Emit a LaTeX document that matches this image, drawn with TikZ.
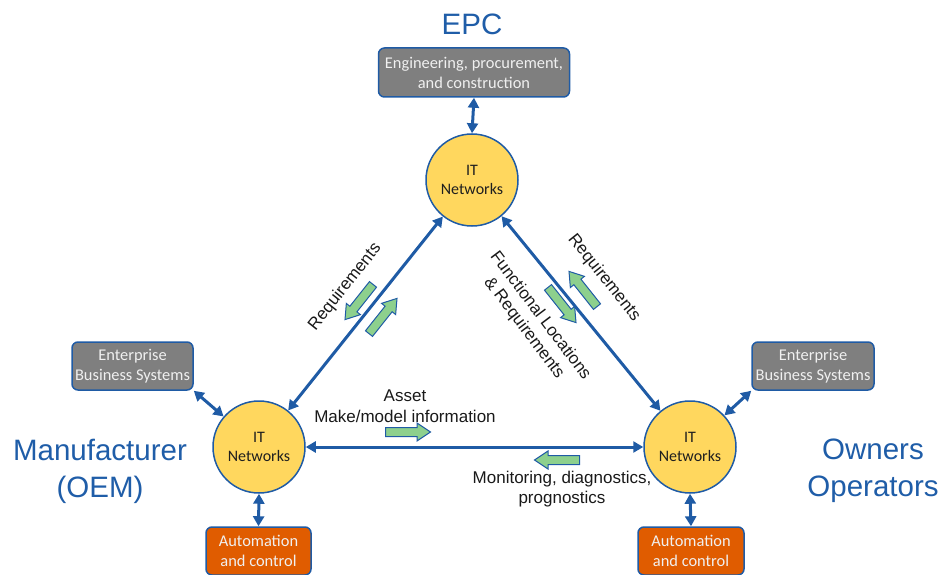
\documentclass[tikz,border=0pt]{standalone}
\usepackage{fontspec}
\setmainfont{Liberation Sans}
\newfontfamily\boxfont{Carlito}
\usetikzlibrary{arrows.meta}
\definecolor{lblue}{HTML}{1F5BA5}
\definecolor{tblue}{HTML}{1F5DA8}
\definecolor{cyellow}{HTML}{FFD75E}
\definecolor{cgray}{HTML}{7F7F7F}
\definecolor{corange}{HTML}{E05C00}
\definecolor{cgreen}{HTML}{8DD08D}
\tikzset{
  circ/.style={circle, draw=lblue, line width=1.5pt, fill=cyellow, minimum size=92pt, inner sep=0pt, align=center, text=black!88, font=\boxfont\fontsize{16}{19}\selectfont},
  gbox/.style={rounded corners=6pt, draw=lblue, line width=1.5pt, fill=cgray, text=white!94!black, align=center, inner sep=0pt, font=\boxfont\fontsize{16.4}{20}\selectfont},
  obox/.style={gbox, fill=corange},
  conn/.style={draw=lblue, line width=3pt, {Triangle[length=10pt,width=11pt]}-{Triangle[length=10pt,width=11pt]}},
  lbl/.style={align=center, text=black!90, inner sep=0pt, font=\fontsize{17}{20.5}\selectfont},
  big/.style={align=center, text=tblue, inner sep=0pt, font=\fontsize{29.5}{37}\selectfont},
  garrow/.pic={\draw[draw=lblue, line width=1pt, fill=cgreen, line join=miter]
     (-22.5,-4.5) -- (9,-4.5) -- (9,-9) -- (22.5,0) -- (9,9) -- (9,4.5) -- (-22.5,4.5) -- cycle;}
}
\begin{document}
\begin{tikzpicture}[x=1pt,y=1pt]
\useasboundingbox (0,0) rectangle (940,574);
% titles
\node[big] (epc) at (472,550) {EPC};
\node[big] (oem) at (100,103) {Manufacturer\\(OEM)};
\node[big] (own) at (873,103) {Owners\\Operators};
% circles
\node[circ] (tc) at (472,394) {IT\\Networks};
\node[circ] (lc) at (259,127) {IT\\Networks};
\node[circ] (rc) at (690,127) {IT\\Networks};
% boxes
\node[gbox, minimum width=191pt, minimum height=49pt] (tbox) at (474,501.5) {Engineering, procurement,\\and construction};
\node[gbox, minimum width=121pt, minimum height=48pt] (lent) at (132.5,208) {Enterprise\\Business Systems};
\node[gbox, minimum width=122pt, minimum height=48pt] (rent) at (813,208) {Enterprise\\Business Systems};
\node[obox, minimum width=105pt, minimum height=48pt] (laut) at (258.5,23) {Automation\\and control};
\node[obox, minimum width=106pt, minimum height=48pt] (raut) at (691,23) {Automation\\and control};
% connectors
\draw[conn] (tbox.south) -- (tc.north);
\draw[conn] (lc) -- (tc);
\draw[conn] (tc) -- (rc);
\draw[conn] (lc) -- (rc);
\draw[conn] (lent.south east) -- (lc);
\draw[conn] (rent.south west) -- (rc);
\draw[conn] (lc.south) -- (laut.north);
\draw[conn] (rc.south) -- (raut.north);
% labels
\node[lbl, rotate=51.5] (req1) at (345,287) {Requirements};
\node[lbl, rotate=-51.5] (req2) at (604,296) {Requirements};
\node[lbl, rotate=-53] (flr) at (532,252) {Functional Locations\\\& Requirements};
\node[lbl] (asset) at (405,168) {Asset\\Make/model information};
\node[lbl] (mon) at (562,85) {Monitoring, diagnostics,\\prognostics};
% green flow arrows
\pic[rotate=231.5] at (359,272) {garrow};
\pic[rotate=51.5] at (383,258) {garrow};
\pic[rotate=128.5] at (583,285) {garrow};
\pic[rotate=-51.5] at (562,269) {garrow};
\pic at (408,142) {garrow};
\pic[rotate=180] at (557,114) {garrow};
\end{tikzpicture}
\end{document}
